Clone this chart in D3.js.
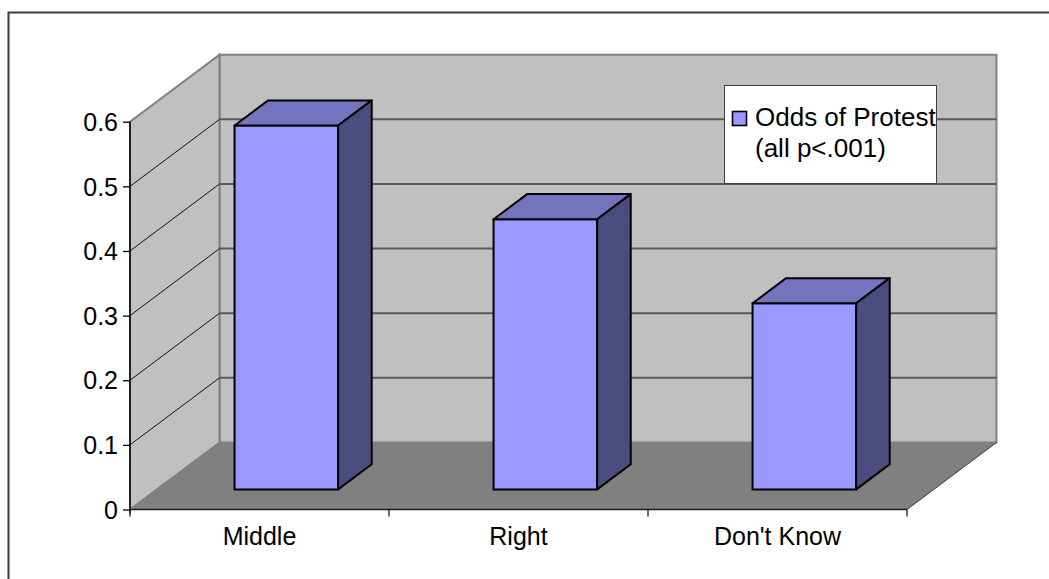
<!DOCTYPE html>
<html>
<head>
<meta charset="utf-8">
<script src="https://cdn.jsdelivr.net/npm/d3@7"></script>
<style>
  html, body { margin: 0; padding: 0; background: #fff; }
  svg { display: block; }
  text { font-family: "Liberation Sans", Arial, sans-serif; fill: #000; }
</style>
</head>
<body>
<script>
// Chart data
const categories = ["Middle", "Right", "Don't Know"];
const oddsOfProtest = [0.563, 0.418, 0.288];
const yTickValues = [0, 0.1, 0.2, 0.3, 0.4, 0.5, 0.6];
const yTickLabels = ["0", "0.1", "0.2", "0.3", "0.4", "0.5", "0.6"];
const legendLines = ["Odds of Protest", "(all p<.001)"];

(function () {
const W = 1049, H = 579;
const svg = d3.select("body").append("svg").attr("width", W).attr("height", H);

// Front plane of the plot and its depth offset (oblique projection)
const plotLeft = 130, plotRight = 907, plotBottom = 509.5, plotTop = 121.7;
const DX = 89.5, DY = 67;           // full depth of the plot box
const barD0 = 0.30, barD1 = 0.675;  // depth slice occupied by the columns

const y = d3.scaleLinear().domain([0, 0.6]).range([plotBottom, plotTop]);
const x = d3.scaleBand().domain(categories).range([plotLeft, plotRight])
  .paddingInner(0.6).paddingOuter(0.3);
const xStep = d3.scaleBand().domain(categories).range([plotLeft, plotRight]);

// project (x on front plane, value, depth 0..1) to screen
const P = (px, v, d) => [px + d * DX, y(v) - d * DY];
const poly = pts => "M" + pts.map(p => p.join(",")).join("L") + "Z";

// outer chart border
svg.append("rect").attr("x", 8.5).attr("y", 12.5).attr("width", 1100).attr("height", 700)
  .attr("fill", "none").attr("stroke", "#3a3a3a").attr("stroke-width", 2);

const vMax = 0.6;
// back wall
svg.append("path")
  .attr("d", poly([P(plotLeft, 0, 1), P(plotLeft, vMax, 1), P(plotRight, vMax, 1), P(plotRight, 0, 1)]))
  .attr("fill", "#c0c0c0").attr("stroke", "#808080").attr("stroke-width", 2);
// side wall
svg.append("path")
  .attr("d", poly([P(plotLeft, 0, 0), P(plotLeft, vMax, 0), P(plotLeft, vMax, 1), P(plotLeft, 0, 1)]))
  .attr("fill", "#c0c0c0").attr("stroke", "#808080").attr("stroke-width", 2);
// floor
svg.append("path")
  .attr("d", poly([P(plotLeft, 0, 0), P(plotLeft, 0, 1), P(plotRight, 0, 1), P(plotRight, 0, 0)]))
  .attr("fill", "#808080").attr("stroke", "none");
svg.append("line")
  .attr("x1", P(plotRight, 0, 0)[0]).attr("y1", P(plotRight, 0, 0)[1])
  .attr("x2", P(plotRight, 0, 1)[0]).attr("y2", P(plotRight, 0, 1)[1])
  .attr("stroke", "#3a3a3a").attr("stroke-width", 1);

// gridlines: back wall horizontals and side wall diagonals
const gridVals = yTickValues.filter(v => v > 0 && v < vMax);
svg.append("g").selectAll("line").data(gridVals).join("line")
  .attr("x1", d => P(plotLeft, d, 1)[0]).attr("y1", d => P(plotLeft, d, 1)[1])
  .attr("x2", d => P(plotRight, d, 1)[0]).attr("y2", d => P(plotRight, d, 1)[1])
  .attr("stroke", "#5a5a5a").attr("stroke-width", 2);
svg.append("g").selectAll("line").data(gridVals).join("line")
  .attr("x1", d => P(plotLeft, d, 0)[0]).attr("y1", d => P(plotLeft, d, 0)[1])
  .attr("x2", d => P(plotLeft, d, 1)[0]).attr("y2", d => P(plotLeft, d, 1)[1])
  .attr("stroke", "#111").attr("stroke-width", 1);

// columns
const bars = svg.append("g").selectAll("g").data(categories.map((c, i) => ({ c, v: oddsOfProtest[i] })))
  .join("g");
bars.append("path") // front
  .attr("d", d => {
    const x0 = x(d.c), x1 = x0 + x.bandwidth();
    return poly([P(x0, 0, barD0), P(x0, d.v, barD0), P(x1, d.v, barD0), P(x1, 0, barD0)]);
  })
  .attr("fill", "#9999ff").attr("stroke", "#000").attr("stroke-width", 2).attr("stroke-linejoin", "round");
bars.append("path") // top
  .attr("d", d => {
    const x0 = x(d.c), x1 = x0 + x.bandwidth();
    return poly([P(x0, d.v, barD0), P(x1, d.v, barD0), P(x1, d.v, barD1), P(x0, d.v, barD1)]);
  })
  .attr("fill", "#7474bf").attr("stroke", "#000").attr("stroke-width", 2).attr("stroke-linejoin", "round");
bars.append("path") // right side
  .attr("d", d => {
    const x1 = x(d.c) + x.bandwidth();
    return poly([P(x1, 0, barD0), P(x1, d.v, barD0), P(x1, d.v, barD1), P(x1, 0, barD1)]);
  })
  .attr("fill", "#4c4c7f").attr("stroke", "#000").attr("stroke-width", 2).attr("stroke-linejoin", "round");

// value axis
const yAxis = svg.append("g").attr("transform", `translate(${plotLeft},0)`)
  .call(d3.axisLeft(y).tickValues(yTickValues).tickFormat((d, i) => yTickLabels[i])
    .tickSizeInner(7).tickSizeOuter(0).tickPadding(5));
yAxis.select(".domain").attr("stroke", "#000").attr("stroke-width", 1.5)
  .attr("d", `M0,${plotTop}V${plotBottom + 4}`);
yAxis.selectAll(".tick line").attr("stroke", "#000").attr("stroke-width", 1.3);
yAxis.selectAll(".tick text").attr("font-size", 25).attr("font-family", "Liberation Sans, Arial, sans-serif")
  .attr("fill", "#000").attr("dy", "0.35em");

// category axis
const xAxis = svg.append("g").attr("transform", `translate(0,${plotBottom})`);
xAxis.append("line").attr("x1", plotLeft).attr("x2", plotRight).attr("stroke", "#1a1a1a").attr("stroke-width", 1.5);
const boundaries = categories.map(c => xStep(c)).concat([plotRight]);
xAxis.selectAll("line.tk").data(boundaries).join("line").attr("class", "tk")
  .attr("x1", d => d).attr("x2", d => d).attr("y1", 0).attr("y2", 7)
  .attr("stroke", "#1a1a1a").attr("stroke-width", 1.3);
xAxis.selectAll("text").data(categories).join("text")
  .attr("x", d => xStep(d) + xStep.bandwidth() / 2).attr("y", 35.5)
  .attr("text-anchor", "middle").attr("font-size", 25).text(d => d);

// legend
const lg = svg.append("g");
lg.append("rect").attr("x", 724.5).attr("y", 85.5).attr("width", 212).attr("height", 98)
  .attr("fill", "#fff").attr("stroke", "#404040").attr("stroke-width", 1);
lg.append("rect").attr("x", 732.5).attr("y", 111.5).attr("width", 14).attr("height", 14)
  .attr("fill", "#9999ff").attr("stroke", "#000").attr("stroke-width", 1.6);
lg.selectAll("text").data(legendLines).join("text")
  .attr("x", 755).attr("y", (d, i) => 125.5 + i * 31.5)
  .attr("font-size", 26).text(d => d);
})();
</script>
</body>
</html>
